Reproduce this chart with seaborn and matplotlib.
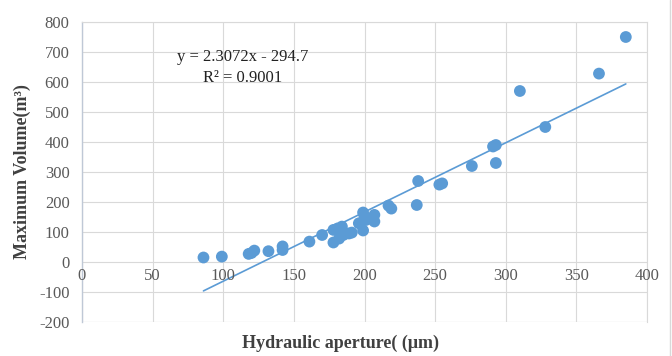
import numpy as np
import pandas as pd
import matplotlib
matplotlib.use("Agg")
import matplotlib.pyplot as plt
import seaborn as sns
from matplotlib.lines import Line2D

# data
aperture = [86, 99, 118, 120, 122, 132, 142, 142, 161, 170,
            178, 178, 181, 182, 184, 185, 189, 191, 196, 199,
            199, 200, 201, 207, 207, 217, 219, 237, 238, 253,
            255, 276, 291, 293, 293, 310, 328, 366, 385]
volume = [15, 18, 27, 30, 38, 36, 52, 40, 68, 90,
          107, 65, 112, 78, 118, 90, 95, 98, 129, 105,
          165, 150, 140, 157, 135, 188, 178, 190, 270, 258,
          262, 320, 385, 390, 330, 570, 450, 628, 750]
slope = 2.3072
intercept = -294.7
r2 = 0.9001
x_ticks = [0, 50, 100, 150, 200, 250, 300, 350, 400]
y_ticks = [-200, -100, 0, 100, 200, 300, 400, 500, 600, 700, 800]

df = pd.DataFrame({"aperture": aperture, "volume": volume})

sns.set_theme(style="white")
plt.rcParams["font.family"] = ["Liberation Serif", "DejaVu Serif"]
plt.rcParams["axes.unicode_minus"] = False

blue = "#5B9BD5"
tick_col = "#595959"
label_col = "#404040"
grid_col = "#D9D9D9"

fig = plt.figure(figsize=(6.72, 3.56), dpi=100)
ax = fig.add_axes([82 / 672, 1 - 322 / 356, (647 - 82) / 672, 300 / 356])

# trend line from the fitted equation
xs = np.array([min(aperture), max(aperture)])
ax.plot(xs, slope * xs + intercept, color=blue, lw=1.2, zorder=2)

sns.scatterplot(data=df, x="aperture", y="volume", ax=ax, color=blue,
                s=72, edgecolor="none", zorder=3)

ax.set_xlim(0, 400)
ax.set_ylim(-200, 800)
ax.set_xticks(x_ticks)
ax.set_yticks(y_ticks)
ax.grid(True, color=grid_col, lw=0.8)
ax.set_axisbelow(True)

for side in ["top", "right"]:
    ax.spines[side].set_color(grid_col)
    ax.spines[side].set_linewidth(0.8)
ax.spines["bottom"].set_visible(False)
ax.spines["left"].set_color("#BFC8D6")
ax.spines["left"].set_linewidth(1.0)
ax.axhline(-200, color=grid_col, lw=0.8, zorder=0)

ax.tick_params(axis="both", length=0, labelsize=12, labelcolor=tick_col)
ax.tick_params(axis="y", pad=9)
# x labels sit just under the y=0 line, as in Excel
ax.set_xticklabels([])
for t in x_ticks:
    ax.text(t, -20, str(t), ha="center", va="top", fontsize=12,
            color=tick_col, transform=ax.transData)

ax.set_xlabel("")
ax.set_ylabel("")
fig.text(340 / 672, 1 - 343 / 356, "Hydraulic aperture( (\u03bcm)", ha="center",
         va="center", fontsize=13, fontweight="bold", color=label_col)
fig.text(22 / 672, 1 - 172 / 356, "Maximum Volume(m\u00b3)", ha="center",
         va="center", rotation=90, fontsize=13, fontweight="bold", color=label_col)

fig.text(243 / 672, 1 - 57 / 356, "y = 2.3072x - 294.7", ha="center",
         va="center", fontsize=12, color="#222222")
fig.text(243 / 672, 1 - 78 / 356, f"R\u00b2 = {r2:.4f}", ha="center",
         va="center", fontsize=12, color="#222222")

fig.add_artist(Line2D([670 / 672, 670 / 672], [0, 1], color=grid_col, lw=1,
                      transform=fig.transFigure))

fig.savefig("out.png", dpi=100)
